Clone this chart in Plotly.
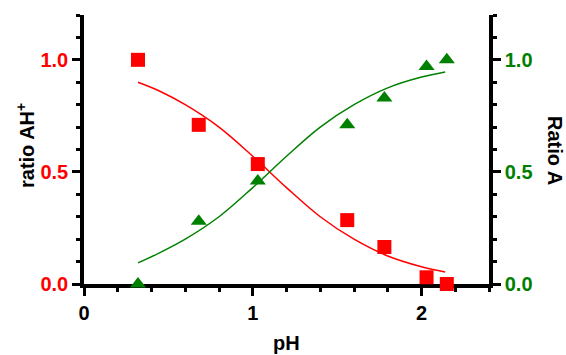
import plotly.graph_objects as go

# Data
ph = [0.32, 0.68, 1.03, 1.56, 1.78, 2.03, 2.15]
ratio_ah = [1.0, 0.71, 0.535, 0.285, 0.165, 0.03, 0.0]
ratio_a = [0.0, 0.28, 0.46, 0.71, 0.83, 0.97, 1.0]

# Fitted curves
fit_ph = [0.32, 0.45, 0.6, 0.8, 1.0, 1.2, 1.4, 1.6, 1.8, 2.0, 2.14]
fit_ah = [0.90, 0.86, 0.80, 0.70, 0.57, 0.43, 0.30, 0.20, 0.125, 0.077, 0.054]
fit_a = [0.094, 0.14, 0.20, 0.30, 0.43, 0.57, 0.70, 0.80, 0.875, 0.923, 0.946]

x_ticks = [0, 1, 2]
y_ticks = [0.0, 0.5, 1.0]

RED = "#ff0000"
GREEN = "#008000"
FONT = "Liberation Sans, Arial, sans-serif"

W, H = 566, 355
L, R, T, B = 84, 77, 15, 71
PW, PH = W - L - R, H - T - B


def px_to_paper_x(px):
    return (px - L) / PW


def px_to_paper_y(py):
    return (H - B - py) / PH


fig = go.Figure()
fig.add_trace(go.Scatter(x=fit_ph, y=fit_ah, mode="lines", line=dict(color=RED, width=1.5, shape="spline"),
                         showlegend=False, hoverinfo="skip"))
fig.add_trace(go.Scatter(x=fit_ph, y=fit_a, mode="lines", line=dict(color=GREEN, width=1.5, shape="spline"),
                         yaxis="y2", showlegend=False, hoverinfo="skip"))
fig.add_trace(go.Scatter(x=ph, y=ratio_ah, mode="markers", cliponaxis=False,
                         marker=dict(symbol="square", size=14, color=RED), showlegend=False))
fig.add_trace(go.Scatter(x=ph, y=ratio_a, mode="markers", cliponaxis=False, yaxis="y2",
                         marker=dict(symbol="triangle-up", size=14, color=GREEN), showlegend=False))

axis_common = dict(showgrid=False, zeroline=False, showline=True, linecolor="black", linewidth=3.5,
                   ticks="outside", tickcolor="black", tickwidth=3, ticklen=8, layer="below traces",
                   automargin=False)
minor_common = dict(ticklen=4, tickwidth=3, tickcolor="black", ticks="outside")

fig.update_layout(
    width=W, height=H,
    margin=dict(l=L, r=R, t=T, b=B, autoexpand=False),
    plot_bgcolor="white", paper_bgcolor="white",
    font=dict(family=FONT, size=20, color="black"),
    xaxis=dict(range=[0, 2.4], tickvals=x_ticks, ticktext=[str(v) for v in x_ticks],
               tickfont=dict(family=FONT, size=20, color="black", weight="bold"),
               minor=dict(dtick=0.2, **minor_common), **axis_common),
    yaxis=dict(range=[0, 1.2], tickvals=y_ticks, tickformat=".1f",
               tickfont=dict(family=FONT, size=20, color=RED, weight="bold"),
               minor=dict(dtick=0.1, **minor_common), **axis_common),
    yaxis2=dict(range=[0, 1.2], tickvals=y_ticks, tickformat=".1f", overlaying="y", side="right",
                tickfont=dict(family=FONT, size=20, color=GREEN, weight="bold"),
                minor=dict(dtick=0.1, **minor_common), **axis_common),
    annotations=[
        dict(text="<b>pH</b>", x=px_to_paper_x(286), y=px_to_paper_y(343), xref="paper", yref="paper",
             xanchor="center", yanchor="middle", showarrow=False, font=dict(family=FONT, size=20, color="black")),
        dict(text="<b>ratio AH<sup>+</sup></b>", textangle=-90, x=px_to_paper_x(25), y=px_to_paper_y(146),
             xref="paper", yref="paper", xanchor="center", yanchor="middle", showarrow=False,
             font=dict(family=FONT, size=20, color="black")),
        dict(text="<b>Ratio A</b>", textangle=90, x=px_to_paper_x(555), y=px_to_paper_y(150),
             xref="paper", yref="paper", xanchor="center", yanchor="middle", showarrow=False,
             font=dict(family=FONT, size=20, color="black")),
    ],
)

fig.write_html("out.html", config={"displayModeBar": False},
               post_script="document.body.style.margin='0';document.body.style.padding='0';")
